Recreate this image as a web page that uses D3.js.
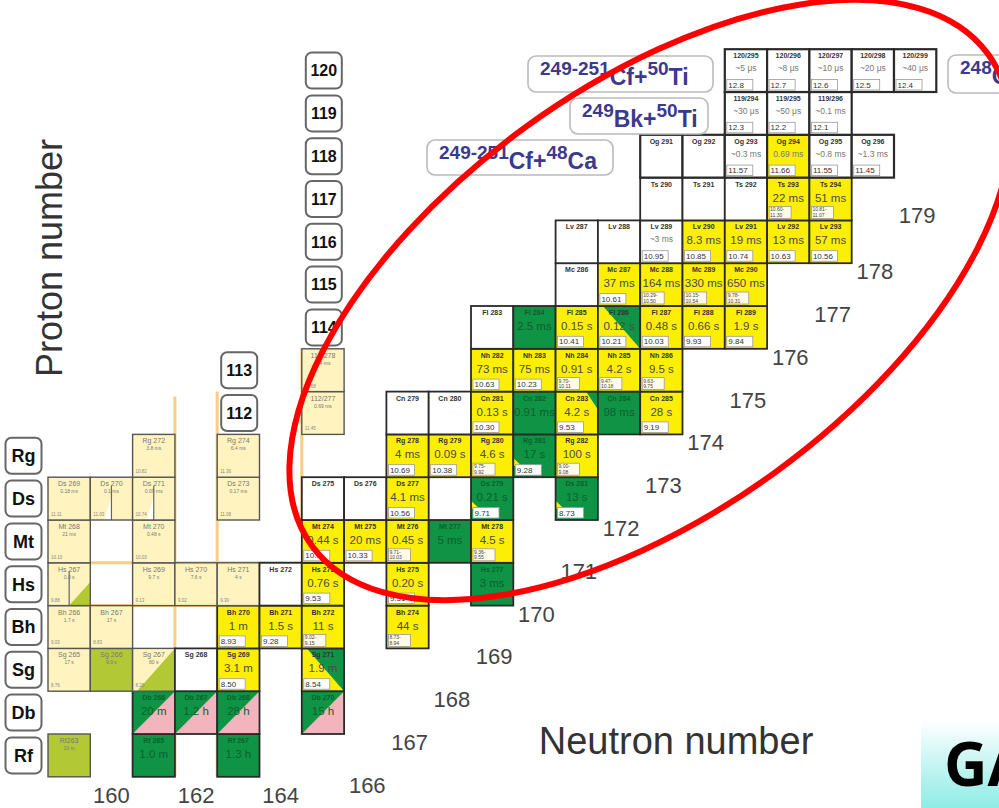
<!DOCTYPE html>
<html>
<head>
<meta charset="utf-8">
<script src="https://cdn.jsdelivr.net/npm/d3@7"></script>
<style>
  body { margin: 0; background: #fff; overflow: hidden; }
  svg { display: block; font-family: "Liberation Sans", Arial, sans-serif; }
</style>
</head>
<body>
<script>
// one array per element row: [neutron number, label, half-life, kind, alpha energy]
var rfCells = [[159,"Rf263","10 m","O",""],[161,"Rf 265","1.0 m","G",""],[163,"Rf 267","1.3 h","G",""]];
var dbCells = [[161,"Db 266","20 m","GP",""],[162,"Db 267","1.2 h","GP",""],[163,"Db 268","28 h","GP",""],[165,"Db 270","15 h","GP",""]];
var sgCells = [[159,"Sg 265","17 s","L","8.76"],[160,"Sg 266","9.0 s","O",""],[161,"Sg 267","80 s","LO","8.20"],[162,"Sg 268","","W",""],[163,"Sg 269","3.1 m","Y","8.50"],[165,"Sg 271","1.9 m","YG","8.54"]];
var bhCells = [[159,"Bh 266","1.7 s","L","9.03"],[160,"Bh 267","17 s","L","8.83"],[163,"Bh 270","1 m","Y","8.93"],[164,"Bh 271","1.5 s","Y","9.28"],[165,"Bh 272","11 s","Y",["9.02-","9.15"]],[167,"Bh 274","44 s","Y",["8.73-","8.94"]]];
var hsCells = [[159,"Hs 267","0.8 s","LS2","9.88"],[161,"Hs 269","9.7 s","L","9.13"],[162,"Hs 270","7.6 s","L","9.02"],[163,"Hs 271","4 s","L","9.30"],[164,"Hs 272","","W",""],[165,"Hs 273","0.76 s","Y","9.53"],[167,"Hs 275","0.20 s","Y","9.31"],[169,"Hs 277","3 ms","G",""]];
var mtCells = [[159,"Mt 268","21 ms","L","10.10"],[161,"Mt 270","0.48 s","L","10.03"],[165,"Mt 274","0.44 s","Y","10.0"],[166,"Mt 275","20 ms","Y","10.33"],[167,"Mt 276","0.45 s","Y",["9.71-","10.03"]],[168,"Mt 277","5 ms","G",""],[169,"Mt 278","4.5 s","Y",["9.36-","9.55"]]];
var dsCells = [[159,"Ds 269","0.18 ms","L","11.11"],[160,"Ds 270","0.1 ms","LS","11.03"],[161,"Ds 271","0.09 ms","LS","10.74"],[163,"Ds 273","0.17 ms","L","11.08"],[165,"Ds 275","","W",""],[166,"Ds 276","","W",""],[167,"Ds 277","4.1 ms","Y","10.56"],[169,"Ds 279","0.21 s","GY","9.71"],[171,"Ds 281","13 s","GY","8.73"]];
var rgCells = [[161,"Rg 272","3.8 ms","L","10.82"],[163,"Rg 274","6.4 ms","L","11.36"],[167,"Rg 278","4 ms","Y","10.69"],[168,"Rg 279","0.09 s","Y","10.38"],[169,"Rg 280","4.6 s","Y",["9.75-","9.92"]],[170,"Rg 281","17 s","GY","9.28"],[171,"Rg 282","100 s","Y",["9.00-","9.08"]]];
var cnCells = [[165,"112/277","0.69 ms","L","11.45"],[167,"Cn 279","","W",""],[168,"Cn 280","","W",""],[169,"Cn 281","0.13 s","Y","10.30"],[170,"Cn 282","0.91 ms","G",""],[171,"Cn 283","4.2 s","YGs","9.53"],[172,"Cn 284","98 ms","G",""],[173,"Cn 285","28 s","Y","9.19"]];
var nhCells = [[165,"113/278","1.4 ms","L","11.68"],[169,"Nh 282","73 ms","Y","10.63"],[170,"Nh 283","75 ms","Y","10.23"],[171,"Nh 284","0.91 s","Y",["9.70-","10.11"]],[172,"Nh 285","4.2 s","Y",["9.47-","10.18"]],[173,"Nh 286","9.5 s","Y",["9.63-","9.75"]]];
var flCells = [[169,"Fl 283","","W",""],[170,"Fl 284","2.5 ms","G",""],[171,"Fl 285","0.15 s","Y","10.41"],[172,"Fl 286","0.12 s","YG","10.21"],[173,"Fl 287","0.48 s","Y","10.03"],[174,"Fl 288","0.66 s","Y","9.93"],[175,"Fl 289","1.9 s","Y","9.84"]];
var mcCells = [[171,"Mc 286","","W",""],[172,"Mc 287","37 ms","Y","10.61"],[173,"Mc 288","164 ms","Y",["10.29-","10.50"]],[174,"Mc 289","330 ms","Y",["10.15-","10.54"]],[175,"Mc 290","650 ms","Y",["9.78-","10.31"]]];
var lvCells = [[171,"Lv 287","","W",""],[172,"Lv 288","","W",""],[173,"Lv 289","~3 ms","W","10.95"],[174,"Lv 290","8.3 ms","Y","10.85"],[175,"Lv 291","19 ms","Y","10.74"],[176,"Lv 292","13 ms","Y","10.63"],[177,"Lv 293","57 ms","Y","10.56"]];
var tsCells = [[173,"Ts 290","","W",""],[174,"Ts 291","","W",""],[175,"Ts 292","","W",""],[176,"Ts 293","22 ms","Y",["10.60-","11.30"]],[177,"Ts 294","51 ms","Y",["10.81-","11.07"]]];
var ogCells = [[173,"Og 291","","W",""],[174,"Og 292","","W",""],[175,"Og 293","~0.3 ms","W","11.57"],[176,"Og 294","0.69 ms","Y","11.66"],[177,"Og 295","~0.8 ms","W","11.55"],[178,"Og 296","~1.3 ms","W","11.45"]];
var e119Cells = [[175,"119/294","~30 μs","W","12.3"],[176,"119/295","~50 μs","W","12.2"],[177,"119/296","~0.1 ms","W","12.1"]];
var e120Cells = [[175,"120/295","~5 μs","W","12.8"],[176,"120/296","~8 μs","W","12.7"],[177,"120/297","~10 μs","W","12.6"],[178,"120/298","~20 μs","W","12.5"],[179,"120/299","~40 μs","W","12.4"]];

var elementLabels = ["Rf","Db","Sg","Bh","Hs","Mt","Ds","Rg"];   // Z = 104..111
var zLabelsLow = [112,113];
var zLabelsHigh = [114,115,116,117,118,119,120];
var bottomTicks = [160,162,164];
var diagTicks = [166,167,168,169,170,171,172,173,174,175,176,177,178,179];

// reaction labels: [first superscript, element, second superscript, element]
var reactions = [["249-251","Cf+","50","Ti"],["249","Bk+","50","Ti"],["249-251","Cf+","48","Ca"],["248","Cm+","54","Cr"]];

var W = 999, H = 808;
var yellow = "#fcef05", green = "#0f9446", light = "#fff4bf", olive = "#b3c835", pink = "#f2b4bd";

var svg = d3.select("body").append("svg").attr("width", W).attr("height", H);

var x = d3.scaleLinear().domain([159, 179]).range([48, 48 + 20 * 42.3]);       // left edge of column N
var yTop = d3.scaleLinear().domain([104, 120]).range([734, 734 - 16 * 42.8]);   // top edge of row Z
var cw = x(160) - x(159), ch = yTop(104) - yTop(105);

var rows = [[104,rfCells],[105,dbCells],[106,sgCells],[107,bhCells],[108,hsCells],[109,mtCells],[110,dsCells],
            [111,rgCells],[112,cnCells],[113,nhCells],[114,flCells],[115,mcCells],[116,lvCells],[117,tsCells],
            [118,ogCells],[119,e119Cells],[120,e120Cells]];

// orange guide lines (N = 162 column, Z = 108 row) behind the cells
var guide = svg.append("g").attr("stroke", "#fbcd86").attr("stroke-width", 3);
guide.append("line").attr("x1", x(162)).attr("x2", x(162)).attr("y1", yTop(112) + 5).attr("y2", yTop(104) + ch);
guide.append("line").attr("x1", x(163)).attr("x2", x(163)).attr("y1", yTop(112)).attr("y2", yTop(104) + ch);
guide.append("line").attr("x1", x(159)).attr("x2", x(166)).attr("y1", yTop(108)).attr("y2", yTop(108));
guide.append("line").attr("x1", x(159)).attr("x2", x(166)).attr("y1", yTop(107)).attr("y2", yTop(107));
guide.append("line").attr("x1", x(165)).attr("x2", x(165)).attr("y1", yTop(113)).attr("y2", yTop(109));

var baseFill = {Y:yellow, G:green, W:"#fff", L:light, O:olive, GP:pink, YG:yellow, GY:green, YGs:yellow, LO:light, LS:light, LS2:light};
var isLight = function(k) { return k === "L" || k === "LO" || k === "LS" || k === "LS2" || k === "O"; };
var isGreen = function(k) { return k === "G" || k === "GY" || k === "GP"; };

var cells = svg.append("g");
rows.forEach(function(r) {
  var z = r[0];
  r[1].forEach(function(c) {
    var k = c[3], x0 = x(c[0]), y0 = yTop(z), x1 = x0 + cw, y1 = y0 + ch, xm = x0 + cw / 2;
    var g = cells.append("g");
    g.append("rect").attr("x", x0).attr("y", y0).attr("width", cw).attr("height", ch).attr("fill", baseFill[k]);
    var tri = function(pts, col) {
      g.append("polygon").attr("points", pts.map(function(p) { return p.join(","); }).join(" ")).attr("fill", col);
    };
    if (k === "GP") tri([[x0,y0],[x1,y0],[x0,y1]], green);
    if (k === "YG") tri([[x0 + 0.12 * cw, y0],[x1,y0],[x1,y1]], green);
    if (k === "GY") tri([[x0, y0 + 0.55 * ch],[x0 + 0.2 * cw, y0 + 0.74 * ch],[x0, y0 + 0.74 * ch]], yellow);
    if (k === "YGs") tri([[x0 + 0.72 * cw, y0],[x1,y0],[x1, y0 + 0.42 * ch]], green);
    if (k === "LO") tri([[x1,y0],[x1,y1],[x0 + 0.1 * cw, y1]], olive);
    if (k === "LS") tri([[xm, y0 + 0.45 * ch],[xm, y1],[xm - 0.17 * cw, y1]], "#fff");
    if (k === "LS2") tri([[x1, y0 + 0.45 * ch],[x1, y1],[xm, y1]], olive);
    if (k === "LS" || k === "LS2")
      g.append("line").attr("x1", xm).attr("x2", xm).attr("y1", y0 + 0.2 * ch).attr("y2", y1)
        .attr("stroke", "#666").attr("stroke-width", 1.2);

    var nameCol = isGreen(k) ? "#0b5f2a" : (isLight(k) ? "#777" : "#333");
    g.append("text").attr("x", xm).attr("y", y0 + 9).attr("text-anchor", "middle")
      .attr("font-size", 7).attr("font-weight", isLight(k) ? "normal" : "bold").attr("fill", nameCol).text(c[1]);
    if (c[2]) {
      var small = c[2].charAt(0) === "~" || z >= 118;
      g.append("text").attr("x", xm).attr("y", y0 + (small ? 22 : (isLight(k) ? 16 : 24))).attr("text-anchor", "middle")
        .attr("font-size", isLight(k) ? 5 : (small ? 8.5 : 11.5))
        .attr("fill", isGreen(k) ? "#0b5f2a" : (isLight(k) || small ? "#777" : "#4a4a4a"))
        .text(c[2]);
    }
    var e = c[4];
    if (e && isLight(k)) {
      g.append("text").attr("x", x0 + 3).attr("y", y1 - 4).attr("font-size", 4.5).attr("fill", "#888").text(e);
    } else if (e && typeof e === "string") {
      g.append("rect").attr("x", x0 + 2).attr("y", y1 - 12.5).attr("width", 26).attr("height", 10.5)
        .attr("fill", "#fff").attr("stroke", "#999").attr("stroke-width", 0.8);
      g.append("text").attr("x", x0 + 3.5).attr("y", y1 - 4.5).attr("font-size", 8).attr("fill", "#333").text(e);
    } else if (e) {
      g.append("rect").attr("x", x0 + 2).attr("y", y1 - 14).attr("width", 22).attr("height", 12)
        .attr("fill", "#fffbe8").attr("stroke", "#999").attr("stroke-width", 0.8);
      g.append("text").attr("x", x0 + 3).attr("y", y1 - 9).attr("font-size", 5).attr("fill", "#444").text(e[0]);
      g.append("text").attr("x", x0 + 3).attr("y", y1 - 3.5).attr("font-size", 5).attr("fill", "#444").text(e[1]);
    }
    g.append("rect").attr("x", x0).attr("y", y0).attr("width", cw).attr("height", ch).attr("fill", "none")
      .attr("stroke", isLight(k) ? "#555" : "#2a2a2a").attr("stroke-width", z >= 118 ? 2.2 : (isLight(k) ? 1.4 : 1.8));
  });
});

// row label boxes
function labelBox(cx, cy, txt, size) {
  svg.append("rect").attr("x", cx - 18).attr("y", cy - 18).attr("width", 36).attr("height", 36).attr("rx", 6)
    .attr("fill", "#fff").attr("stroke", "#666").attr("stroke-width", 2);
  svg.append("text").attr("x", cx).attr("y", cy).attr("dy", "0.36em").attr("text-anchor", "middle")
    .attr("font-size", size).attr("font-weight", "bold").attr("fill", "#111").text(txt);
}
elementLabels.forEach(function(s, i) { labelBox(23.5, yTop(104 + i) + ch / 2, s, 18); });
zLabelsLow.forEach(function(z) { labelBox(x(163) + 22, yTop(z) + ch / 2, z, 16); });
zLabelsHigh.forEach(function(z) { labelBox(x(165) + 22, yTop(z) + ch / 2, z, 16); });

// neutron number ticks
bottomTicks.forEach(function(n) {
  svg.append("text").attr("x", x(n) + cw / 2).attr("y", 795).attr("dy", "0.36em").attr("text-anchor", "middle")
    .attr("font-size", 22).attr("fill", "#444").text(n);
});
diagTicks.forEach(function(n) {
  var yc = yTop(n - 62.69) + ch / 2 - (n === 179 ? 13 : 0);
  svg.append("text").attr("x", x(n) + cw / 2 + 2).attr("y", yc).attr("dy", "0.36em").attr("text-anchor", "middle")
    .attr("font-size", 22).attr("fill", "#444").text(n);
});

// axis titles
svg.append("text").attr("transform", "translate(62," + 258 + ") rotate(-90)").attr("text-anchor", "middle")
  .attr("font-size", 36).attr("fill", "#333").text("Proton number");
svg.append("text").attr("x", 676).attr("y", 754).attr("text-anchor", "middle")
  .attr("font-size", 38).attr("fill", "#333").text("Neutron number");

// reaction boxes
var reactionBoxes = [[528, 56, 185, 36], [570, 98, 138, 36], [427, 140, 186, 35], [948, 55, 80, 38]];
reactions.forEach(function(r, i) {
  var b = reactionBoxes[i];
  svg.append("rect").attr("x", b[0]).attr("y", b[1]).attr("width", b[2]).attr("height", b[3]).attr("rx", 8)
    .attr("fill", "#fff").attr("stroke", "#bbb").attr("stroke-width", 1.6);
  var t = svg.append("text").attr("x", b[0] + 12).attr("y", b[1] + 29).attr("fill", "#3b3a8c").attr("font-weight", "bold");
  t.append("tspan").attr("font-size", 19).attr("dy", -10).text(r[0]);
  t.append("tspan").attr("font-size", 23).attr("dy", 10).text(r[1]);
  t.append("tspan").attr("font-size", 19).attr("dy", -10).text(r[2]);
  t.append("tspan").attr("font-size", 23).attr("dy", 10).text(r[3]);
});

// GA corner
var grad = svg.append("defs").append("linearGradient").attr("id", "gaGrad")
  .attr("x1", "0%").attr("y1", "0%").attr("x2", "0%").attr("y2", "100%");
grad.append("stop").attr("offset", 0).attr("stop-color", "#ffffff");
grad.append("stop").attr("offset", 1).attr("stop-color", "#8decE6");
svg.append("rect").attr("x", 921).attr("y", 720).attr("width", 78).attr("height", 88).attr("fill", "url(#gaGrad)");
svg.append("text").attr("x", 944).attr("y", 786).attr("font-family", "'Open Sans', sans-serif")
  .attr("font-size", 60).attr("font-weight", "bold").attr("fill", "#000").text("GA");

// red highlight ellipse
svg.append("ellipse").attr("cx", 650).attr("cy", 300).attr("rx", 418).attr("ry", 213)
  .attr("transform", "rotate(-36,650,300)").attr("fill", "none").attr("stroke", "#f00").attr("stroke-width", 6);
</script>
</body>
</html>
